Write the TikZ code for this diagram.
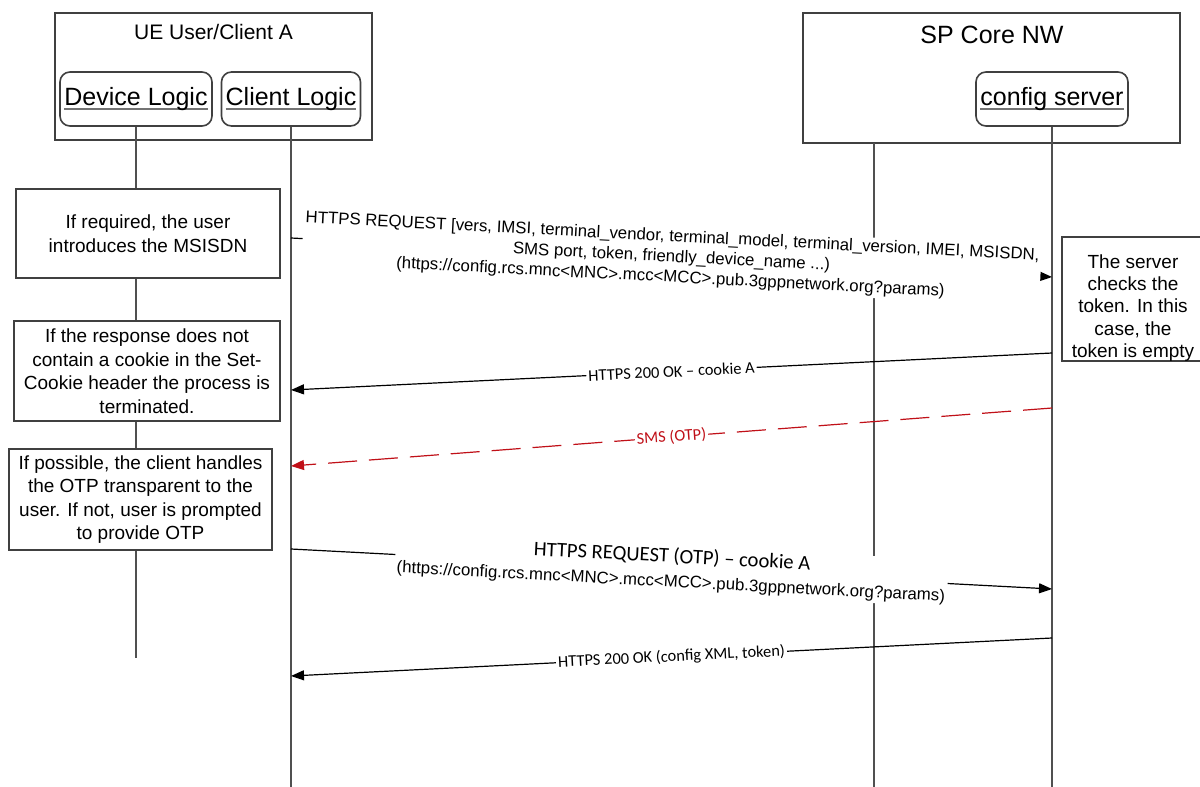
\documentclass[tikz,border=0pt]{standalone}
\usepackage{fontspec}
\setmainfont{Liberation Sans}
\newfontfamily\calfont{Carlito}
\usetikzlibrary{arrows.meta}
\definecolor{smsred}{RGB}{192,16,24}
\definecolor{frameclr}{RGB}{64,64,64}
\definecolor{lifeclr}{RGB}{80,80,80}
\newcommand{\grayul}[1]{\leavevmode\setbox0\hbox{#1}\rlap{\color{black!55}\rule[-2.3pt]{\wd0}{0.9pt}}\box0}
\newcommand{\arlbl}{\fontsize{8.4}{10.2}\selectfont}
\newcommand{\callbl}{\calfont\fontsize{8.2}{10}\selectfont}
\begin{document}
\begin{tikzpicture}[x=0.5pt,y=-0.5pt,
  frame/.style={draw=frameclr, line width=0.9pt, inner sep=0pt},
  actor/.style={draw=frameclr, line width=0.8pt, rounded corners=5pt, minimum height=27pt, inner sep=0pt, font=\fontsize{12.5}{14}\selectfont},
  note/.style={draw=frameclr, fill=white, line width=0.7pt, align=center, inner sep=0pt, font=\fontsize{9.5}{11.75}\selectfont},
  notetext/.style={align=center, inner sep=0pt, font=\fontsize{9.5}{11.2}\selectfont},
  life/.style={draw=lifeclr, line width=0.85pt},
  msg/.style={draw=black, line width=0.6pt, -{Triangle[length=6.5pt,width=5pt]}},
  lbl/.style={fill=white, inner sep=1pt, align=center, sloped},
]
\useasboundingbox (0,0) rectangle (1200,787);
\clip (0,0) rectangle (1200,787);

% group frames
\node[frame, minimum width=158.5pt, minimum height=63.5pt] (ue) at (213.5,76.5) {};
\node[font=\fontsize{10.5}{12}\selectfont] (uetitle) at (213.5,32) {UE User/Client A};
\node[frame, minimum width=188.5pt, minimum height=65pt] (core) at (991.5,78) {};
\node[font=\fontsize{12.5}{14}\selectfont] (coretitle) at (992,35) {SP Core NW};

% actors
\node[actor, minimum width=76pt] (dev) at (136,99) {\grayul{Device Logic}};
\node[actor, minimum width=69.5pt] (cli) at (291,99) {\grayul{Client Logic}};
\node[actor, minimum width=76pt] (cfg) at (1052,99) {\grayul{config server}};

% lifelines
\coordinate (devend) at (136,658);
\coordinate (cliend) at (291,790);
\coordinate (midtop) at (874,143);
\coordinate (midend) at (874,790);
\coordinate (cfgend) at (1052,790);
\draw[life] (dev.south) -- (devend);
\draw[life] (cli.south) -- (cliend);
\draw[life] (midtop) -- (midend);
\draw[life] (cfg.south) -- (cfgend);

% notes
\node[note, minimum width=132pt, minimum height=44.5pt] (n1) at (148,233.5) {If required, the user\\introduces the MSISDN};
\node[note, minimum width=133pt, minimum height=50pt] (n2) at (147,371) {If the response does not\\contain a cookie in the Set-\\Cookie header the process is\\terminated.};
\node[note, minimum width=131.5pt, minimum height=50.5pt] (n3) at (140.5,499.5) {If possible, the client handles\\the OTP transparent to the\\user. If not, user is prompted\\to provide OTP};
\node[note, minimum width=71.5pt, minimum height=62pt] (n4) at (1133.5,299) {};
\node[notetext] (n4t) at (1133,308) {The server\\checks the\\token. In this\\case, the\\token is empty};

% message end points
\coordinate (m1s) at (291,238);
\coordinate (m1e) at (1052,277);
\coordinate (m2s) at (1052,353);
\coordinate (m2e) at (291,390);
\coordinate (m3s) at (1052,408);
\coordinate (m3e) at (291,466);
\coordinate (m4s) at (291,549);
\coordinate (m4e) at (1052,589);
\coordinate (m5s) at (1052,638);
\coordinate (m5e) at (291,676);

% messages
\draw[msg] (m1s) -- node[lbl, font=\arlbl] (l1) {HTTPS REQUEST [vers, IMSI, terminal\_vendor, terminal\_model, terminal\_version, IMEI, MSISDN,\\SMS port, token, friendly\_device\_name ...)\\(https://config.rcs.mnc<MNC>.mcc<MCC>.pub.3gppnetwork.org?params)} (m1e);
\draw[msg] (m2s) -- node[lbl, font=\callbl] (l2) {HTTPS 200 OK – cookie A} (m2e);
\draw[msg, draw=smsred, dash pattern=on 14.5pt off 6pt] (m3s) -- node[lbl, font=\callbl, text=smsred] (l3) {SMS (OTP)} (m3e);
\draw[msg] (m4s) -- node[lbl, font=\fontsize{8.4}{12.2}\selectfont] (l4) {{\calfont\fontsize{10.3}{12.2}\selectfont HTTPS REQUEST (OTP) – cookie A}\\(https://config.rcs.mnc<MNC>.mcc<MCC>.pub.3gppnetwork.org?params)} (m4e);
\draw[msg] (m5s) -- node[lbl, font=\callbl] (l5) {HTTPS 200 OK (config XML, token)} (m5e);
\end{tikzpicture}
\end{document}
